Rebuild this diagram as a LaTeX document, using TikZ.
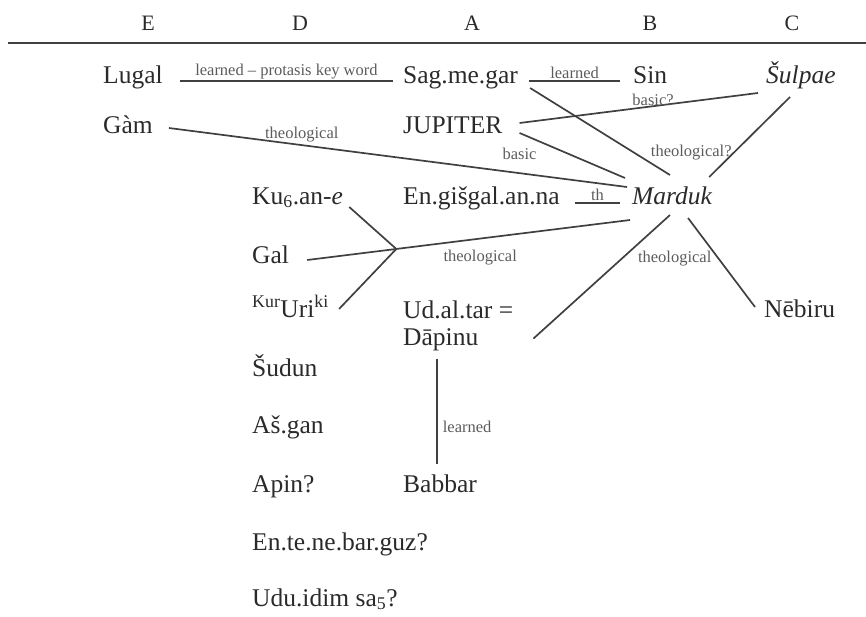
\documentclass[tikz,border=0pt]{standalone}
\usepackage{fontspec}
\setmainfont{Liberation Serif}
\usetikzlibrary{positioning,calc}
\definecolor{ink}{HTML}{2A2A2A}
\definecolor{wire}{HTML}{404040}
\definecolor{note}{HTML}{5C5C5C}
\newcommand{\termsize}{\fontsize{25.5}{27}\selectfont}
\newcommand{\notesize}{\fontsize{16.5}{19}\selectfont}
\newcommand{\headsize}{\fontsize{22}{26}\selectfont}
\begin{document}
\begin{tikzpicture}[x=1pt, y=-1pt,
        term/.style={inner sep=0pt, anchor=base west, font=\termsize, text=ink},
        head/.style={inner sep=0pt, anchor=base, font=\headsize, text=ink},
        link/.style={line width=1.7pt, wire},
        note/.style={inner sep=0pt, font=\notesize, text=note}]

        \useasboundingbox (0,0) rectangle (866,616);

        % Header
        \node[head] (hE) at (148,30) {E};
        \node[head] (hD) at (300,30) {D};
        \node[head] (hA) at (472,30) {A};
        \node[head] (hB) at (650,30) {B};
        \node[head] (hC) at (792,30) {C};
        \draw[line width=2.2pt, wire] (8,43) -- (866,43);

        % Row 1 and 2
        \node[term] (lugal) at (103,83) {Lugal};
        \node[term] (sag) at (403,83) {Sag.me.gar};
        \node[term] (sin) at (633,83) {Sin};
        \node[term, font=\termsize\itshape] (sulpae) at (766,83) {Šulpae};
        \node[term] (gam) at (103,133) {Gàm};
        \node[term] (jup) at (403,133) {JUPITER};

        % Marduk row
        \node[term] (kuan) at (252,204) {Ku\textsubscript{6}.an-\textit{e}};
        \node[term] (engis) at (403,204) {En.gišgal.an.na};
        \node[term, font=\termsize\itshape] (marduk) at (632,204) {Marduk};

        % Lower rows
        \node[term] (gal) at (252,263) {Gal};
        \node[term] (kururi) at (252,317) {\textsuperscript{Kur}Uri\textsuperscript{ki}};
        \node[term, align=left] (udal) at (403,345) {Ud.al.tar =\\Dāpinu};
        \node[term] (nebiru) at (764,317) {Nēbiru};
        \node[term] (sudun) at (252,376) {Šudun};
        \node[term] (asgan) at (252,433) {Aš.gan};
        \node[term] (apin) at (252,492) {Apin?};
        \node[term] (babbar) at (403,492) {Babbar};
        \node[term] (entene) at (252,550) {En.te.ne.bar.guz?};
        \node[term] (udu) at (252,606) {Udu.idim sa\textsubscript{5}?};

        % Learned links
        \draw[link] ($(lugal.base east)+(17,-2)$) -- ($(sag.base west)+(-10,-2)$)
            node[note, midway, above=1pt] {learned -- protasis key word};
        \draw[link] ($(sag.base east)+(11,-2)$) -- ($(sin.base west)+(-13,-2)$)
            node[note, midway, above=1pt] {learned};
        \draw[link] ($(udal.south west)+(34,8)$) -- ($(babbar.north west)+(34,-10)$)
            node[note, pos=.65, right=5pt] {learned};

        % Links into Marduk
        \draw[link] ($(gam.base east)+(16,-5)$) -- ($(marduk.base west)+(-5,-17)$)
            node[note, pos=.29, above=2pt] {theological};
        \draw[link] ($(jup.base east)+(17,-10)$) -- ($(sulpae.base west)+(-8,10)$)
            node[note, pos=.56, above] {basic?};
        \draw[link] ($(jup.base east)+(17,0)$) -- ($(marduk.base west)+(-7,-26)$)
            node[note, pos=0, below=14pt] {basic};
        \draw[link] ($(sag.base east)+(12,5)$) -- ($(marduk.base west)+(38,-29)$);
        \draw[link] ($(sulpae.base west)+(24,14)$) -- ($(marduk.base east)+(-3,-27)$)
            node[note, pos=.7, left=1pt] {theological?};
        \draw[link] ($(engis.base east)+(15,-1)$) -- ($(marduk.base west)+(-12,-1)$)
            node[note, midway, above=1pt] {th};

        % Fork of Gal
        \draw[link] ($(gal.base east)+(18,-3)$) -- coordinate[pos=.276] (fork)
            ($(marduk.base west)+(-2,16)$)
            node[note, pos=.536, below=11pt] {theological};
        \draw[link] ($(kuan.base east)+(6,3)$) -- (fork) -- ($(kururi.base east)+(10,-8)$);

        % Links out of Marduk
        \draw[link] ($(marduk.base west)+(38,11)$) -- ($(udal.south east)+(20,-12)$)
            node[note, pos=.35, right=15pt] {theological};
        \draw[link] ($(marduk.base west)+(56,14)$) -- ($(nebiru.base west)+(-9,-10)$);

    \end{tikzpicture}
\end{document}
